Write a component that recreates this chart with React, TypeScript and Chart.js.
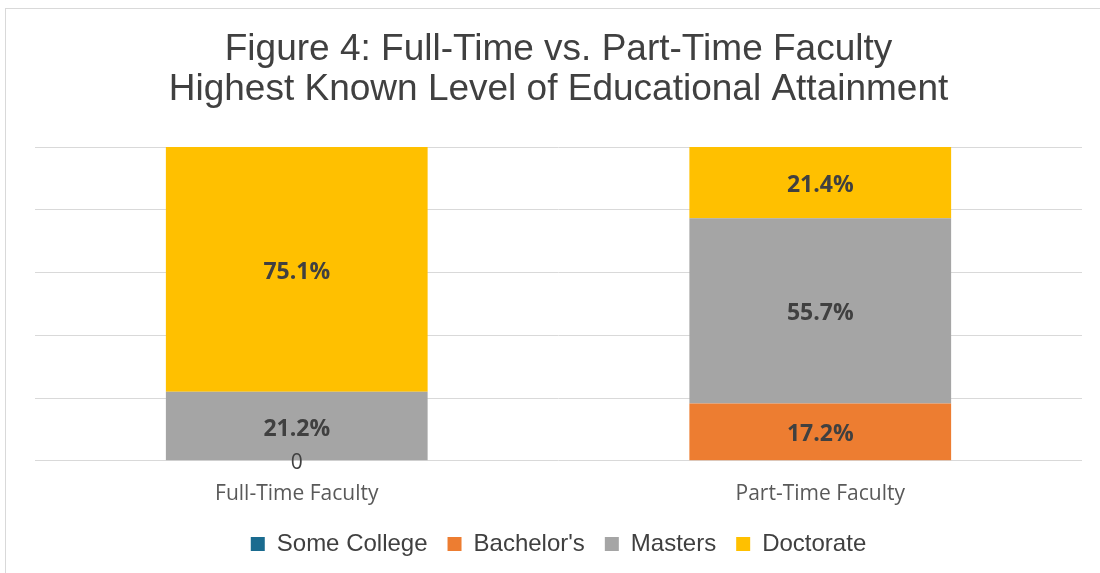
import React, { useEffect, useRef } from "react";
import { Chart, registerables } from "chart.js";

Chart.register(...registerables);

const categories = ["Full-Time Faculty", "Part-Time Faculty"];
const seriesNames = ["Some College", "Bachelor's", "Masters", "Doctorate"];
const someCollege = [0, 0];
const bachelors = [0, 17.2];
const masters = [21.2, 55.7];
const doctorate = [75.1, 21.4];
const yTicks = [0, 20, 40, 60, 80, 100];
const titleLines = ["Figure 4: Full-Time vs. Part-Time Faculty", "Highest Known Level of Educational Attainment"];

const seriesColors = ["#1A6B8F", "#ED7D31", "#A5A5A5", "#FFC000"];
const rawSeries = [someCollege, bachelors, masters, doctorate];
// which series show a label for a zero value (Excel shows "0" for Bachelor's on Full-Time)
const zeroLabelSeries = [1];

const totals = categories.map((_, i) => rawSeries.reduce((s, arr) => s + arr[i], 0));
const share = (arr: number[]) => arr.map((v, i) => (v / totals[i]) * 100);

const labelPlugin = {
  id: "barLabels",
  afterDatasetsDraw(chart: any) {
    const ctx = chart.ctx;
    ctx.save();
    ctx.textAlign = "center";
    ctx.textBaseline = "middle";
    chart.data.datasets.forEach((_ds: any, di: number) => {
      const meta = chart.getDatasetMeta(di);
      const raw = rawSeries[di];
      meta.data.forEach((el: any, i: number) => {
        const v = raw[i];
        const props = el.getProps(["x", "y", "base"], true);
        if (v > 0) {
          ctx.font = "bold 23px 'Open Sans'";
          ctx.fillStyle = "#404040";
          ctx.fillText(v.toFixed(1) + "%", props.x, (props.y + props.base) / 2 + 3);
        } else if (zeroLabelSeries.includes(di) && i === 0) {
          ctx.font = "21px 'Open Sans'";
          ctx.fillStyle = "#404040";
          ctx.fillText("0", props.x, props.base + 2);
        }
      });
    });
    ctx.restore();
  },
};

export default function App() {
  const ref = useRef<HTMLCanvasElement | null>(null);
  useEffect(() => {
    document.body.style.margin = "0";
    if (!ref.current) return;
    const chart = new Chart(ref.current, {
      type: "bar",
      data: {
        labels: categories,
        datasets: rawSeries.map((arr, i) => ({
          label: seriesNames[i],
          data: share(arr),
          backgroundColor: seriesColors[i],
          borderWidth: 0,
          barPercentage: 0.5,
          categoryPercentage: 1,
        })),
      },
      options: {
        animation: false,
        responsive: false,
        maintainAspectRatio: false,
        layout: { padding: { left: 35, right: 18, top: 10, bottom: 7 } },
        scales: {
          x: {
            stacked: true,
            grid: { display: false, drawTicks: false },
            border: { display: false },
            ticks: {
              color: "#595959",
              font: { family: "'Open Sans'", size: 21 },
              padding: 21,
            },
            afterFit: (axis: any) => {
              axis.height -= 16;
            },
          },
          y: {
            stacked: true,
            min: 0,
            max: 100,
            afterBuildTicks: (axis: any) => {
              axis.ticks = yTicks.map((v) => ({ value: v }));
            },
            ticks: { display: false },
            grid: { color: "#D9D9D9", lineWidth: 1, drawTicks: false },
            border: { display: false },
          },
        },
        plugins: {
          title: {
            display: true,
            text: titleLines,
            color: "#404040",
            font: { family: "'Liberation Sans', Arial", size: 37, weight: "normal" as any, lineHeight: 40 / 37 },
            padding: { top: 20, bottom: 37 },
          },
          legend: {
            position: "bottom",
            labels: {
              color: "#404040",
              font: { family: "'Liberation Sans', Arial", size: 24 },
              boxWidth: 14,
              boxHeight: 14,
              padding: 20,
            },
          },
          tooltip: { enabled: false },
        },
      },
      plugins: [labelPlugin],
    });
    return () => chart.destroy();
  }, []);
  return (
    <div style={{ position: "relative", width: 1100, height: 573, overflow: "hidden", background: "#fff" }}>
      <div
        style={{
          position: "absolute",
          left: 5,
          top: 8,
          width: 1200,
          height: 700,
          borderLeft: "1px solid #D9D9D9",
          borderTop: "1px solid #D9D9D9",
        }}
      />
      <canvas ref={ref} width={1100} height={573} style={{ position: "absolute", left: 0, top: 0, display: "block" }} />
    </div>
  );
}
